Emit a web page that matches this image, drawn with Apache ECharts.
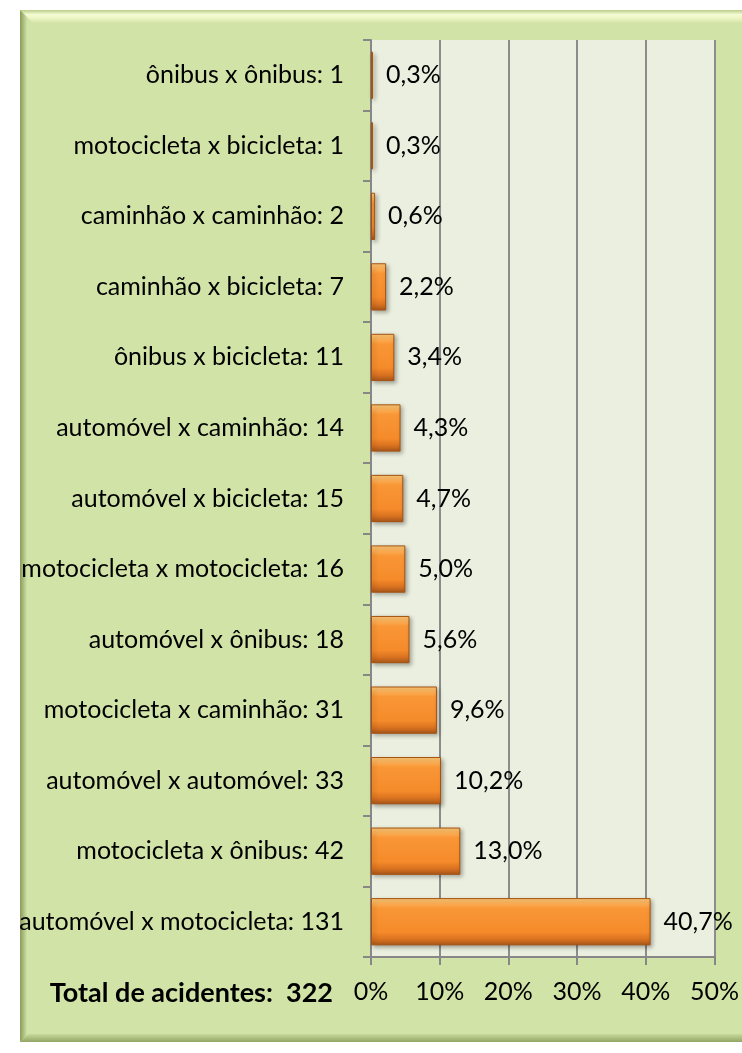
<!DOCTYPE html>
<html>
<head>
<meta charset="utf-8">
<script src="https://cdn.jsdelivr.net/npm/echarts@6/dist/echarts.min.js"></script>
<style>
html,body{margin:0;padding:0;background:#fff;}
#c{width:742px;height:1053px;}
</style>
</head>
<body>
<div id="c"></div>
<script>
// ---- data (bottom category first) ----
const categories = ['automóvel x motocicleta', 'motocicleta x ônibus', 'automóvel x automóvel', 'motocicleta x caminhão', 'automóvel x ônibus', 'motocicleta x motocicleta', 'automóvel x bicicleta', 'automóvel x caminhão', 'ônibus x bicicleta', 'caminhão x bicicleta', 'caminhão x caminhão', 'motocicleta x bicicleta', 'ônibus x ônibus'];
const counts = [131, 42, 33, 31, 18, 16, 15, 14, 11, 7, 2, 1, 1];
const percents = [40.7, 13.0, 10.2, 9.6, 5.6, 5.0, 4.7, 4.3, 3.4, 2.2, 0.6, 0.3, 0.3];
const xMin = 0, xMax = 50, xStep = 10;
const totalText = 'Total de acidentes:  ';
const totalValue = 322;

const FONT = 'Lato';
const FS = 25;
const labels = categories.map((c, i) => c + ': ' + counts[i]);

const chart = echarts.init(document.getElementById('c'), null, {renderer: 'canvas'});
const W = 742, H = 1053;
const bx = 20, by = 10, bw = W - 20 + 10, bh = 1032;

chart.setOption({
  animation: false,
  textStyle: {fontFamily: FONT},
  graphic: [
    {type: 'rect', z: -10, shape: {x: bx, y: by, width: bw, height: bh}, style: {fill: '#d1e3a6'}},
    // top bevel
    {type: 'polygon', z: -9, shape: {points: [[bx, by], [bx + bw, by], [bx + bw, by + 13], [bx + 13, by + 13]]},
      style: {fill: new echarts.graphic.LinearGradient(0, 0, 0, 1, [
        {offset: 0, color: '#b9cc8a'}, {offset: 0.35, color: '#f3fbd2'}, {offset: 0.6, color: '#eef7c6'}, {offset: 1, color: '#d3e4a8'}])}},
    // left bevel
    {type: 'polygon', z: -9, shape: {points: [[bx, by], [bx + 7, by + 7], [bx + 7, by + bh - 7], [bx, by + bh]]},
      style: {fill: new echarts.graphic.LinearGradient(0, 0, 1, 0, [
        {offset: 0, color: '#8a9c5c'}, {offset: 1, color: '#cfe1a3'}])}},
    // bottom bevel
    {type: 'polygon', z: -9, shape: {points: [[bx, by + bh], [bx + 8, by + bh - 8], [bx + bw, by + bh - 8], [bx + bw, by + bh]]},
      style: {fill: new echarts.graphic.LinearGradient(0, 0, 0, 1, [
        {offset: 0, color: '#c8da9c'}, {offset: 1, color: '#93a563'}])}},
    {type: 'text', z: 10, style: {
      text: totalText + totalValue, x: 333, y: 993, align: 'right', verticalAlign: 'middle',
      font: 'bold 27px ' + FONT, fill: '#000'}}
  ],
  grid: {left: 371, top: 40, right: 26, bottom: 96, containLabel: false,
    show: true, backgroundColor: '#ebefdf', borderWidth: 0},
  xAxis: {
    type: 'value', min: xMin, max: xMax, interval: xStep,
    axisLine: {show: true, lineStyle: {color: '#878787', width: 2}},
    axisTick: {show: true, length: 8, lineStyle: {color: '#878787', width: 2}},
    splitLine: {show: true, lineStyle: {color: '#8c8c8c', width: 2}},
    axisLabel: {color: '#000', fontSize: FS, fontFamily: FONT, margin: 22,
      formatter: v => v + '%'}
  },
  yAxis: {
    type: 'category', data: labels,
    axisLine: {show: true, lineStyle: {color: '#878787', width: 2}},
    axisTick: {show: true, length: 8, lineStyle: {color: '#878787', width: 2}},
    axisLabel: {color: '#000', fontSize: FS, fontFamily: FONT, margin: 27}
  },
  series: [{
    type: 'bar', data: percents, barWidth: '67%',
    itemStyle: {
      color: new echarts.graphic.LinearGradient(0, 0, 0, 1, [
        {offset: 0, color: '#fccb7a'}, {offset: 0.1, color: '#fdb35a'}, {offset: 0.22, color: '#f99636'},
        {offset: 0.72, color: '#f58b2b'}, {offset: 0.86, color: '#dc7421'}, {offset: 1, color: '#a7561a'}]),
      borderColor: '#a5520f', borderWidth: 1,
      shadowColor: 'rgba(0,0,0,0.3)', shadowBlur: 4, shadowOffsetX: 2, shadowOffsetY: 2
    },
    label: {show: true, position: 'right', distance: 13, color: '#000', fontSize: FS, fontFamily: FONT,
      formatter: p => p.value.toFixed(1).replace('.', ',') + '%'}
  }]
});
</script>
</body>
</html>
